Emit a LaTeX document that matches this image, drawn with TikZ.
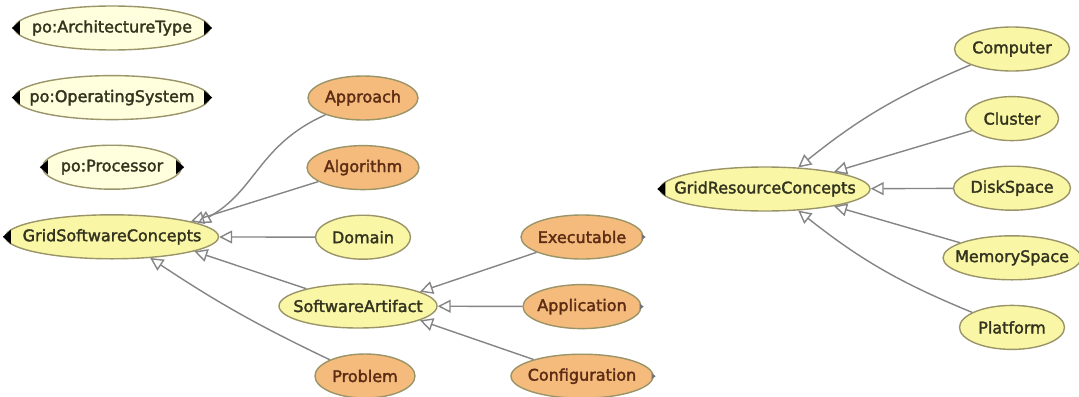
\documentclass[tikz,border=0pt]{standalone}
\usepackage{fontspec}
\setmainfont{DejaVu Sans}
\newfontfamily\lblfont[FakeBold=2]{DejaVu Sans}
\usetikzlibrary{arrows.meta,shapes.geometric}

\definecolor{paleyel}{HTML}{FFFFDE}
\definecolor{yel}{HTML}{F9F7A6}
\definecolor{orng}{HTML}{F5BB7C}
\definecolor{rim}{HTML}{9A9468}
\definecolor{edgegray}{HTML}{858585}
\definecolor{brwn}{HTML}{5C2C14}
\definecolor{ink}{HTML}{33331F}

\tikzset{
  cls/.style={ellipse, draw=rim, line width=0.7pt, fill=yel, text=ink,
    minimum height=22pt, minimum width=#1, inner xsep=0pt,
    font=\lblfont\fontsize{8}{9}\selectfont,
    execute at begin node={\hbox to 0pt\bgroup\hss},
    execute at end node={\hss\egroup}},
  ext/.style={cls=#1, fill=paleyel},
  sub/.style={cls=#1, fill=orng, text=brwn},
  isa/.style={draw=edgegray, line width=0.7pt,
    -{Triangle[open, length=6.5pt, width=6.5pt]}},
}

\begin{document}
\begin{tikzpicture}[x=0.5pt, y=-0.5pt, node distance=34.8pt]
    \path[fill=white] (0,0) rectangle (1079,396);
    \useasboundingbox (0,0) rectangle (1079,396);

    % Nodes {left column}
    \node [ext=97.5pt]  (pat)   at (112,28)       {po:ArchitectureType};
    \node [ext=97.5pt]  (pos)   [below of=pat]    {po:OperatingSystem};
    \node [ext=69.5pt]  (pproc) [below of=pos]    {po:Processor};
    \node [cls=106.5pt] (gsc)   [below of=pproc]  {GridSoftwareConcepts};

    % Nodes {software concepts}
    \node [sub=55pt]    (appr)  at (363,98)       {Approach};
    \node [sub=56pt]    (algo)  [below of=appr]   {Algorithm};
    \node [cls=47.5pt]  (dom)   [below of=algo]   {Domain};
    \node [cls=79pt]    (sa)    at (358,306)      {SoftwareArtifact};
    \node [sub=50pt]    (prob)  at (365,376)      {Problem};
    \node [sub=61pt]    (exe)   at (582,237)      {Executable};
    \node [sub=59pt]    (appl)  [below of=exe]    {Application};
    \node [sub=71pt]    (conf)  [below of=appl]   {Configuration};

    % Nodes {resource concepts}
    \node [cls=105pt]   (grc)   at (765,189)      {GridResourceConcepts};
    \node [cls=57.5pt]  (comp)  at (1012,49)      {Computer};
    \node [cls=46.5pt]  (clus)  [below of=comp]   {Cluster};
    \node [cls=58.5pt]  (disk)  [below of=clus]   {DiskSpace};
    \node [cls=69pt]    (mem)   [below of=disk]   {MemorySpace};
    \node [cls=52.5pt]  (plat)  [below of=mem]    {Platform};

    % Markers
    \foreach \n in {pat,pos,pproc,gsc,grc}
        \fill (\n.west) ++(-2,0) -- ++(8,-7) -- ++(0,14) -- cycle;
    \foreach \n in {pat,pos,pproc}
        \fill (\n.east) ++(2,0) -- ++(-8,-7) -- ++(0,14) -- cycle;
    \foreach \n in {exe,appl,conf}
        \fill[black!55] (\n.east) ++(2,0) -- ++(-4,-3) -- ++(0,6) -- cycle;

    % Paths
    \draw [isa] (appr) .. controls (258,145) and (257,190) .. (gsc.9);
    \draw [isa] (algo) -- (gsc.11);
    \draw [isa] (dom)  -- (gsc);
    \draw [isa] (sa)   -- (gsc.-10);
    \draw [isa] (prob) to [bend left=4] (gsc.-29);
    \draw [isa] (exe)  -- (sa.13);
    \draw [isa] (appl) -- (sa);
    \draw [isa] (conf) -- (sa.-13);
    \draw [isa] (comp) to [bend right=8] (grc.33);
    \draw [isa] (clus) -- (grc.14);
    \draw [isa] (disk) -- (grc);
    \draw [isa] (mem)  -- (grc.-14);
    \draw [isa] (plat) to [bend left=8]  (grc.-33);

\end{tikzpicture}
\end{document}
